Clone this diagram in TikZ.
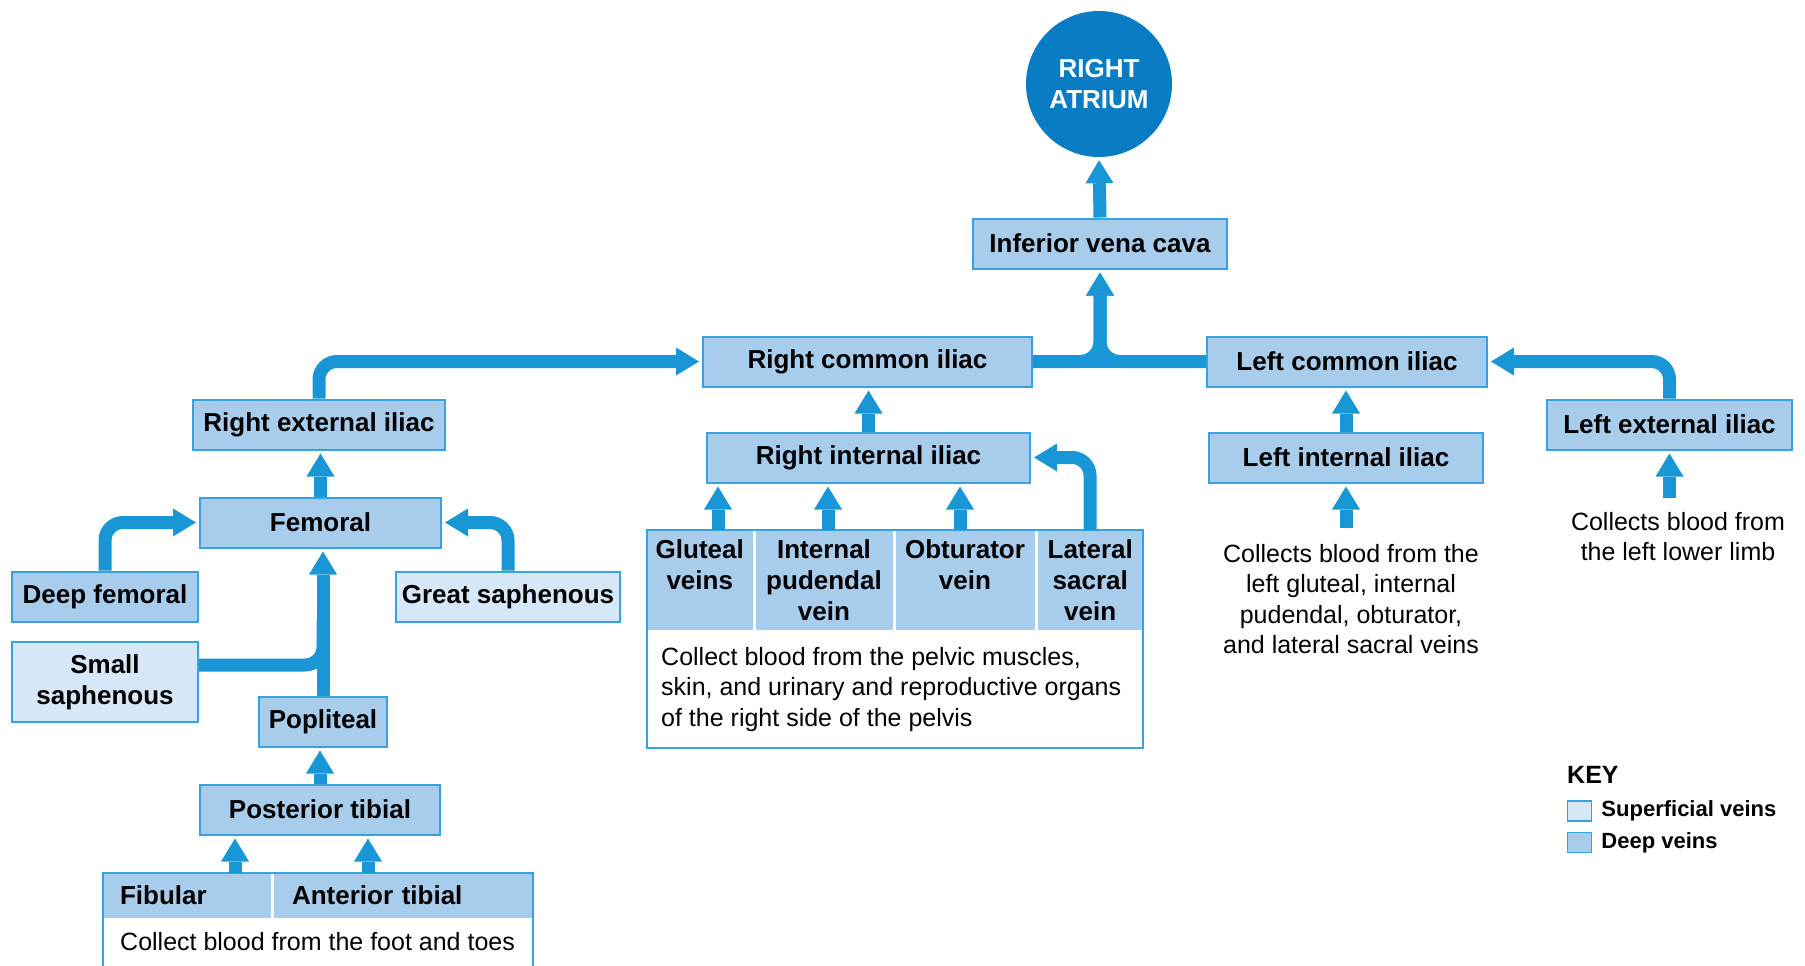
\documentclass[tikz,border=0pt]{standalone}
\usepackage{fontspec}
\setmainfont{Liberation Sans}
\usepackage{tikz}
\usetikzlibrary{arrows.meta,positioning}
\definecolor{deepfill}{RGB}{168,204,236}
\definecolor{supfill}{RGB}{214,232,248}
\definecolor{vborder}{RGB}{56,162,224}
\definecolor{flow}{RGB}{24,150,214}
\definecolor{atrium}{RGB}{10,124,196}

\begin{document}
\begin{tikzpicture}[
  x=1pt, y=-1pt,
  n/.style={draw=vborder, line width=2pt, fill=deepfill, minimum height=50pt, inner sep=0pt,
    align=center, font=\fontsize{26}{31}\selectfont\bfseries},
  sup/.style={n, fill=supfill},
  cell/.style={fill=deepfill, inner sep=0pt, font=\fontsize{26}{31}\selectfont\bfseries},
  desc/.style={inner sep=0pt, font=\fontsize{25}{30.5}\selectfont},
  frame/.style={draw=vborder, line width=2pt},
  pipe/.style={draw=flow, line width=13pt, rounded corners=18pt},
  arr/.style={pipe, -{Triangle[length=23pt,width=28pt,line width=0pt]}, shorten >=3pt}
]
\useasboundingbox (0,0) rectangle (1805,966);

\node[circle, fill=atrium, minimum size=146pt, inner sep=0pt, text=white, align=center,
  font=\fontsize{26}{31}\selectfont\bfseries] (ra) at (1099,84) {RIGHT\\ATRIUM};
\node[n, minimum width=254pt] (ivc) at (1100,243.5) {Inferior vena cava};
\node[n, minimum width=329pt] (rci) at (867.5,361.5) {Right common iliac};
\node[n, minimum width=280pt] (lci) at (1347,361.5) {Left common iliac};
\node[n, minimum width=323pt] (rii) at (868.5,457.5) {Right internal iliac};
\node[n, minimum width=274pt] (lii) at (1346,457.5) {Left internal iliac};
\node[n, minimum width=252pt] (rei) at (319,424.5) {Right external iliac};
\node[n, minimum width=245pt] (lei) at (1669.5,424.5) {Left external iliac};
\node[n, minimum width=241pt] (fem) at (320.5,522.5) {Femoral};
\node[n, minimum width=186pt] (dfem) at (105,596.5) {Deep femoral};
\node[sup, minimum width=224pt] (gsaph) at (508,596.5) {Great saphenous};
\node[sup, minimum width=186pt, minimum height=80pt] (ssaph) at (105,682) {Small\\saphenous};
\node[n, minimum width=128pt] (popl) at (323,721.5) {Popliteal};
\node[n, minimum width=240pt] (ptib) at (320,809.5) {Posterior tibial};

\filldraw[frame, fill=white] (647,530) rectangle (1143,748);
\node[cell, minimum height=100pt, text width=105.5pt, align=center] (glut) at (699.75,580) {Gluteal\\veins\\~};
\node[cell, minimum height=100pt, text width=137pt, align=center] (pud) at (824,580) {Internal\\pudendal\\vein};
\node[cell, minimum height=100pt, text width=139pt, align=center] (obt) at (965,580) {Obturator\\vein\\~};
\node[cell, minimum height=100pt, text width=105.5pt, align=center] (lsac) at (1090.25,580) {Lateral\\sacral\\vein};
\node[desc, anchor=north west, align=left] (pdesc) at (661,647)
  {Collect blood from the pelvic muscles,\\skin, and urinary and reproductive organs\\of the right side of the pelvis};
\draw[frame] (647,530) rectangle (1143,748);

\filldraw[frame, fill=white] (103,873) rectangle (533,1000);
\node[cell, minimum height=45pt, text width=133.5pt, inner xsep=17pt, align=left] (fib) at (186.75,895.5) {Fibular};
\node[cell, minimum height=45pt, text width=222.5pt, inner xsep=18.5pt, align=left] (antib) at (403.25,895.5) {Anterior tibial};
\node[desc, anchor=west] (fdesc) at (120,942) {Collect blood from the foot and toes};
\draw[frame] (103,873) rectangle (533,1000);

\node[desc, align=center, anchor=north, inner ysep=16pt] (liid) at (1351,528)
  {Collects blood from the\\left gluteal, internal\\pudendal, obturator,\\and lateral sacral veins};
\node[desc, align=center, anchor=north, inner ysep=14pt] (leid) at (1678,498)
  {Collects blood from\\the left lower limb};

\node[anchor=west, inner sep=0pt, font=\fontsize{25}{30}\selectfont\bfseries] (key) at (1567,775) {KEY};
\node[sup, line width=1.5pt, minimum width=24pt, minimum height=20pt] (ksup) at (1579.5,811) {};
\node[n, line width=1.5pt, minimum width=24pt, minimum height=20pt] (kdeep) at (1579.5,842.5) {};
\node[right=9pt of ksup, inner sep=0pt, font=\fontsize{22}{26}\selectfont\bfseries] (ksupl) {Superficial veins};
\node[right=9pt of kdeep, inner sep=0pt, font=\fontsize{22}{26}\selectfont\bfseries] (kdeepl) {Deep veins};

\coordinate (gl) at (718,530);
\coordinate (pu) at (828,530);
\coordinate (ob) at (960,530);
\coordinate (ls) at (1090,530);
\coordinate (fb) at (235,873);
\coordinate (an) at (368,873);
\coordinate (knee) at (323,620);

\draw[arr] (ivc.north) -- (ra.south);
\draw[pipe] (rci.east) -- (lci.west);
\draw[arr, rounded corners=20pt] (rci.east) -| (ivc.south);
\draw[arr, rounded corners=20pt] (lci.west) -| (ivc.south);
\draw[arr] (rei.north) |- (rci.west);
\draw[arr] (lei.north) |- (lci.east);
\draw[arr] (rii.north) -- (rii.north |- rci.south);
\draw[arr] (lii.north) -- (lii.north |- lci.south);
\draw[arr] (lii.south |- liid.north) -- (lii.south);
\draw[arr] (lei.south |- leid.north) -- (lei.south);
\draw[arr] (gl) -- (gl |- rii.south);
\draw[arr] (pu) -- (pu |- rii.south);
\draw[arr] (ob) -- (ob |- rii.south);
\draw[arr] (ls) |- (rii.east);
\draw[arr] (fem.north) -- (fem.north |- rei.south);
\draw[arr] (dfem.north) |- (fem.west);
\draw[arr] (gsaph.north) |- (fem.east);
\draw[pipe] ([yshift=17pt]ssaph.east) -| (knee);
\draw[arr] (popl.north) -- (popl.north |- fem.south);
\draw[arr] (ptib.north) -- (ptib.north |- popl.south);
\draw[arr] (fb) -- (fb |- ptib.south);
\draw[arr] (an) -- (an |- ptib.south);
\end{tikzpicture}
\end{document}
